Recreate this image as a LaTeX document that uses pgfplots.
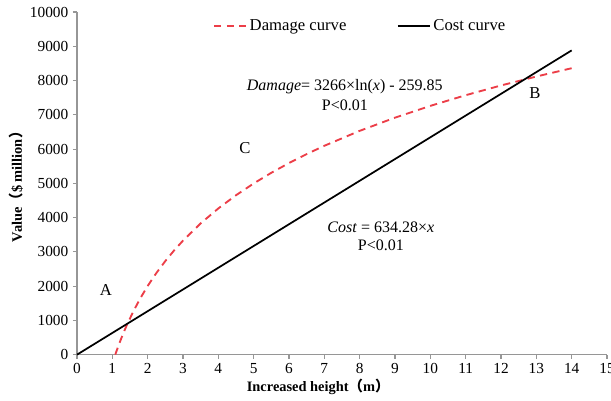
\documentclass[border=0pt]{standalone}
\usepackage{fontspec}
\setmainfont{Liberation Serif}
\newfontfamily\cjk{Noto Sans CJK SC}
\usepackage{pgfplots}
\pgfplotsset{compat=1.18}
\definecolor{dmgred}{RGB}{236,62,72}
\definecolor{axgray}{RGB}{150,150,150}
\begin{document}
\begin{tikzpicture}
\begin{axis}[
    scale only axis,
    width=397.5pt, height=257pt,
    xmin=0, xmax=15, ymin=0, ymax=10000,
    xtick={0,1,...,15},
    ytick={0,1000,...,10000},
    axis lines=left,
    axis line style={axgray, -, line width=0.8pt},
    tick style={axgray, line width=0.8pt},
    tick align=outside,
    major tick length=3pt,
    /pgf/number format/assume math mode=true,
    /pgf/number format/set thousands separator={},
    scaled y ticks=false,
    ticklabel style={font=\fontsize{11.5}{12}\selectfont},
    xlabel={\textbf{Increased height{\cjk （}m{\cjk ）}}},
    ylabel={\textbf{Value{\cjk （}\$ million{\cjk ）}}},
    label style={font=\fontsize{10.8}{12}\selectfont},
    xlabel style={at={(axis description cs:0.455,0)}, anchor=north, yshift=-15pt},
    ylabel style={yshift=-2pt},
    legend style={at={(axis description cs:0.535,0.995)}, anchor=north,
        draw=none, fill=none, font=\fontsize{12.5}{14}\selectfont,
        /tikz/every even column/.append style={column sep=36pt}},
    legend columns=2,
    legend cell align=left,
    legend image code/.code={\draw[#1] (0pt,0pt) -- (24pt,0pt);},
    clip=false
]
\addplot[dmgred, line width=1.4pt, dash pattern=on 5.5pt off 4pt] coordinates {
    (1.0828,0) (1.1,51.4) (1.2,335.6) (1.3,597.0) (1.4,839.1) (1.6,1275.2)
    (1.8,1659.9) (2,2004.0) (2.25,2388.6) (2.5,2732.7) (2.75,3044.0) (3,3328.2)
    (3.5,3831.7) (4,4267.8) (4.5,4652.5) (5,4996.6) (5.5,5307.9) (6,5592.0)
    (6.5,5853.4) (7,6095.5) (8,6531.6) (9,6916.3) (10,7260.4) (11,7571.7)
    (12,7855.9) (13,8117.3) (14,8359.3)
};
\addlegendentry{Damage curve}
\addplot[black, line width=1.3pt] coordinates {(0,0) (14,8879.9)};
\addlegendentry{Cost curve}

\node[font=\fontsize{12.5}{14}\selectfont] at (axis cs:0.82,1895) {A};
\node[font=\fontsize{12.5}{14}\selectfont] at (axis cs:12.96,7640) {B};
\node[font=\fontsize{12.5}{14}\selectfont] at (axis cs:4.75,6035) {C};
\node[font=\fontsize{12}{14}\selectfont] at (axis cs:7.58,7815) {\textit{Damage}= 3266×ln(\textit{x}) - 259.85};
\node[font=\fontsize{12}{14}\selectfont] at (axis cs:7.58,7290) {P<0.01};
\node[font=\fontsize{12}{14}\selectfont] at (axis cs:8.6,3730) {\textit{Cost} = 634.28×\textit{x}};
\node[font=\fontsize{12}{14}\selectfont] at (axis cs:8.6,3180) {P<0.01};

\coordinate (o) at (rel axis cs:0,0);
\coordinate (t) at (rel axis cs:1,1);
\end{axis}
\pgfresetboundingbox
\path[use as bounding box] ([shift={(-57.75pt,-34.5pt)}]o) rectangle ([shift={(3pt,9pt)}]t);
\end{tikzpicture}
\end{document}
